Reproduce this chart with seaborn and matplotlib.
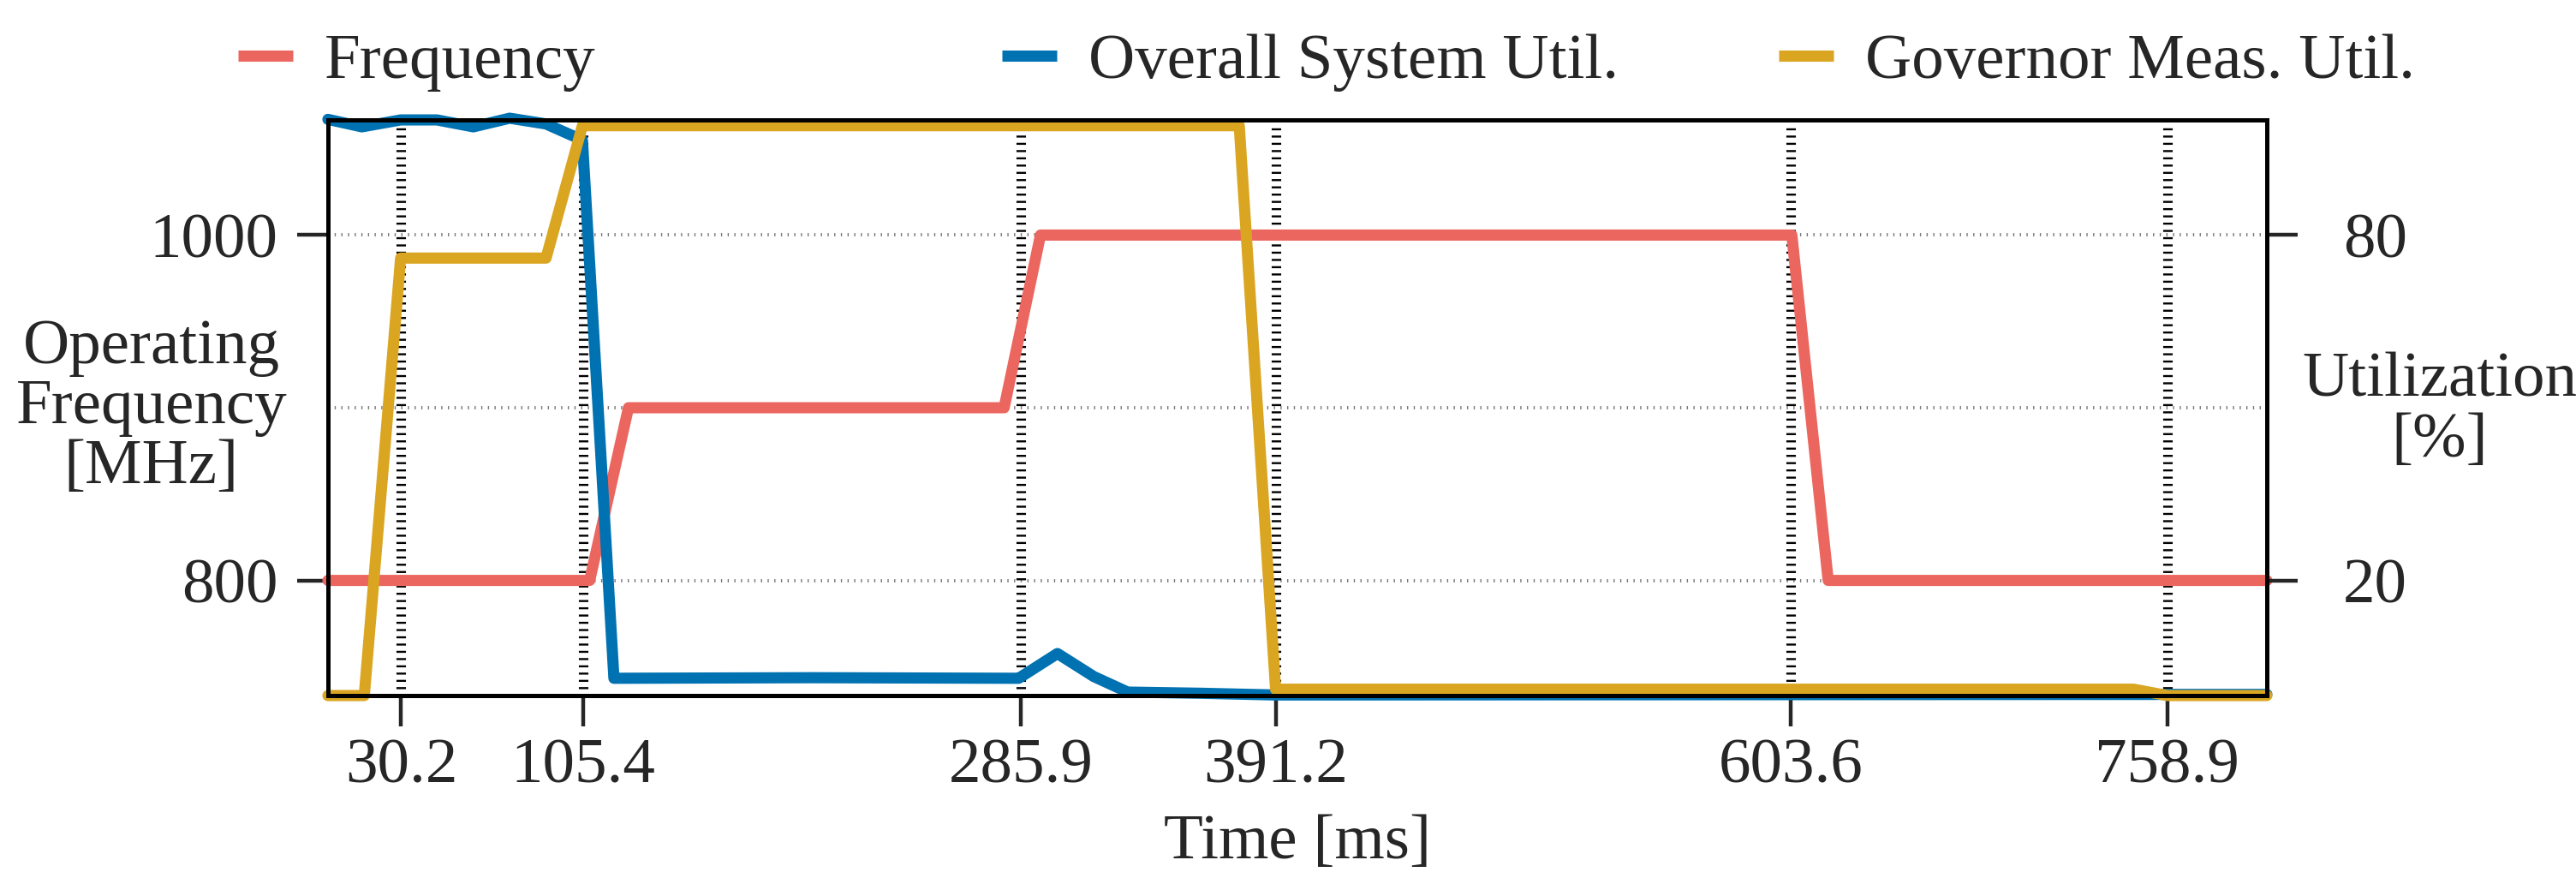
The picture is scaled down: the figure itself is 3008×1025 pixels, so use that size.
import matplotlib
matplotlib.use("Agg")
import matplotlib.pyplot as plt
import seaborn as sns
from matplotlib.lines import Line2D

# values
freq_t = [0, 108, 124, 279, 294, 604, 619, 800]
freq_mhz = [800, 800, 900, 900, 1000, 1000, 800, 800]

sys_t = [0, 14, 30, 45, 60, 75, 90, 105, 118, 200, 285, 301, 316, 330, 360, 391, 758, 800]
sys_util = [100.1, 98.8, 100, 100, 98.8, 100.3, 99.3, 96.5, 3.0, 3.1, 3.0, 7.3, 3.3, 0.6, 0.4, 0.1, 0.2, 0.2]

gov_t = [0, 15, 30, 90, 105, 376, 391, 745, 759, 800]
gov_util = [0, 0, 76, 76, 99, 99, 1.1, 1.1, 0, 0]

event_t = [30.2, 105.4, 285.9, 391.2, 603.6, 758.9]
freq_ticks = [800, 1000]
freq_grid = [800, 900, 1000]
util_ticks = [20, 80]

labels = ['Frequency', 'Overall System Util.', 'Governor Meas. Util.']
colors = ['#ec6660', '#0072b2', '#daa520']

sns.set_theme(style="ticks")
plt.rcParams['font.family'] = ['Liberation Serif', 'DejaVu Serif']
plt.rcParams['lines.scale_dashes'] = False

fig = plt.figure(figsize=(15.04, 5.125), dpi=200)
ax = fig.add_axes([0.1273, 0.2078, 0.7527, 0.6556])
ax2 = ax.twinx()

lw = 4.7
# grid lines
for y in freq_grid:
    ax.axhline(y, color='#777777', lw=1.4, linestyle=(0, (0.5, 2.3)), zorder=1)
for t in event_t:
    ax.axvline(t, ymin=0.012, ymax=0.99, color='black', lw=4.0,
               linestyle=(0, (0.85, 2.2)), zorder=1)

sns.lineplot(x=freq_t, y=freq_mhz, ax=ax, color=colors[0], lw=lw,
             clip_on=False, legend=False, sort=False)
sns.lineplot(x=sys_t, y=sys_util, ax=ax2, color=colors[1], lw=lw,
             clip_on=False, legend=False, sort=False)
sns.lineplot(x=gov_t, y=gov_util, ax=ax2, color=colors[2], lw=lw,
             clip_on=False, legend=False, sort=False)

ax.set_xlim(0, 800)
ax.set_ylim(733.33, 1066.67)
ax2.set_ylim(0, 100)

ax.set_xticks(event_t)
ax.set_xticklabels([f"{t:.1f}" for t in event_t])
ax.set_yticks(freq_ticks)
ax2.set_yticks(util_ticks)

fs = 27
ax.tick_params(axis='x', direction='out', length=13, width=1.6, labelsize=fs, pad=5)
ax.tick_params(axis='y', direction='out', length=13, width=1.6, labelsize=fs, pad=8)
ax2.tick_params(axis='y', direction='out', length=13, width=1.6, labelsize=fs, pad=19)

for a in (ax, ax2):
    for s in a.spines.values():
        s.set_linewidth(1.8)
        s.set_color('black')

ax.set_xlabel("Time [ms]", fontsize=fs, va='center')
ax.xaxis.set_label_coords(0.5, -0.256)
ax.set_ylabel("Operating\nFrequency\n[MHz]", fontsize=fs, rotation=0,
              ha='center', va='center', linespacing=1.05)
ax.yaxis.set_label_coords(-0.091, 0.5)
ax2.set_ylabel("Utilization\n[%]", fontsize=fs, rotation=0,
               ha='center', va='center', linespacing=1.05)
ax2.yaxis.set_label_coords(1.089, 0.494)

# legend: one entry per slot across the top
anchors = [0.0924, 0.389, 0.6905]
for lab, col, xa in zip(labels, colors, anchors):
    h = Line2D([], [], color=col, lw=lw, solid_capstyle='butt')
    fig.legend([h], [lab], loc='center left', bbox_to_anchor=(xa, 0.929),
               frameon=False, fontsize=fs, handlelength=0.85, handletextpad=0.5,
               borderpad=0, borderaxespad=0)

fig.savefig('out.png', dpi=200)
